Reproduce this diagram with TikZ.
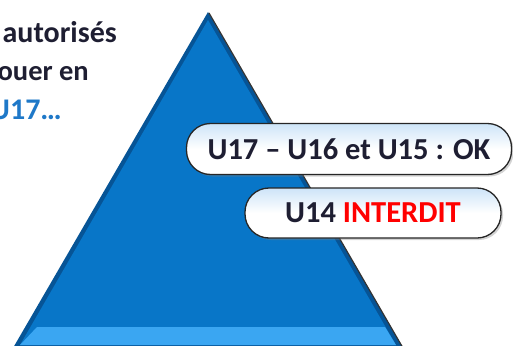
\documentclass[tikz,border=0pt]{standalone}
\usepackage{fontspec}
\setmainfont{Carlito}
\usepackage{xcolor}
\usetikzlibrary{shadows}
\definecolor{pyrblue}{RGB}{8,118,200}
\definecolor{pyrdark}{RGB}{6,84,150}
\definecolor{pyrlight}{RGB}{58,166,242}
\definecolor{txtdark}{RGB}{30,30,50}
\definecolor{txtblue}{RGB}{30,120,200}
\definecolor{pillshade}{RGB}{205,228,248}
\tikzset{
    sidetext/.style = {anchor=base east, inner sep=0pt, font=\fontsize{30}{36}\selectfont\bfseries},
    pill/.style = {rounded corners=24pt, draw=black!85, line width=1.3pt, top color=pillshade, bottom color=white,
                   middle color=white, inner sep=0pt, font=\fontsize{30.5}{36}\selectfont\bfseries, text=txtdark,
                   drop shadow={shadow xshift=2pt, shadow yshift=-2pt, opacity=0.35}}
}

\begin{document}
\begin{tikzpicture}[x=1pt, y=-1pt]
    \clip (0,0) rectangle (513,345);

    % pyramid
    \fill[pyrdark] (208,12) -- (403,348) -- (13,348) -- cycle;
    \fill[pyrblue] (208,20) -- (396,345) -- (20,345) -- cycle;
    \fill[pyrlight] (37,327) -- (385,327) -- (396,345) -- (20,345) -- cycle;
    \draw[black!80, line width=1.2pt] (209,13) -- (403,348);

    \node[sidetext, text=txtdark] (line1) at (117,43) {autorisés};
    \node[sidetext, text=txtdark, font=\fontsize{28.5}{34}\selectfont\bfseries] (line2) at (89,80) {ouer en};
    \node[sidetext, text=txtblue] (line3) at (62,119) {U17…};

    \node[pill, minimum width=325pt, minimum height=51pt] (ok) at (349,149) {U17 – U16 et U15 : OK};
    \node[pill, minimum width=256pt, minimum height=50pt] (ban) at (373,213) {U14 \textcolor{red}{INTERDIT}};
\end{tikzpicture}
\end{document}
